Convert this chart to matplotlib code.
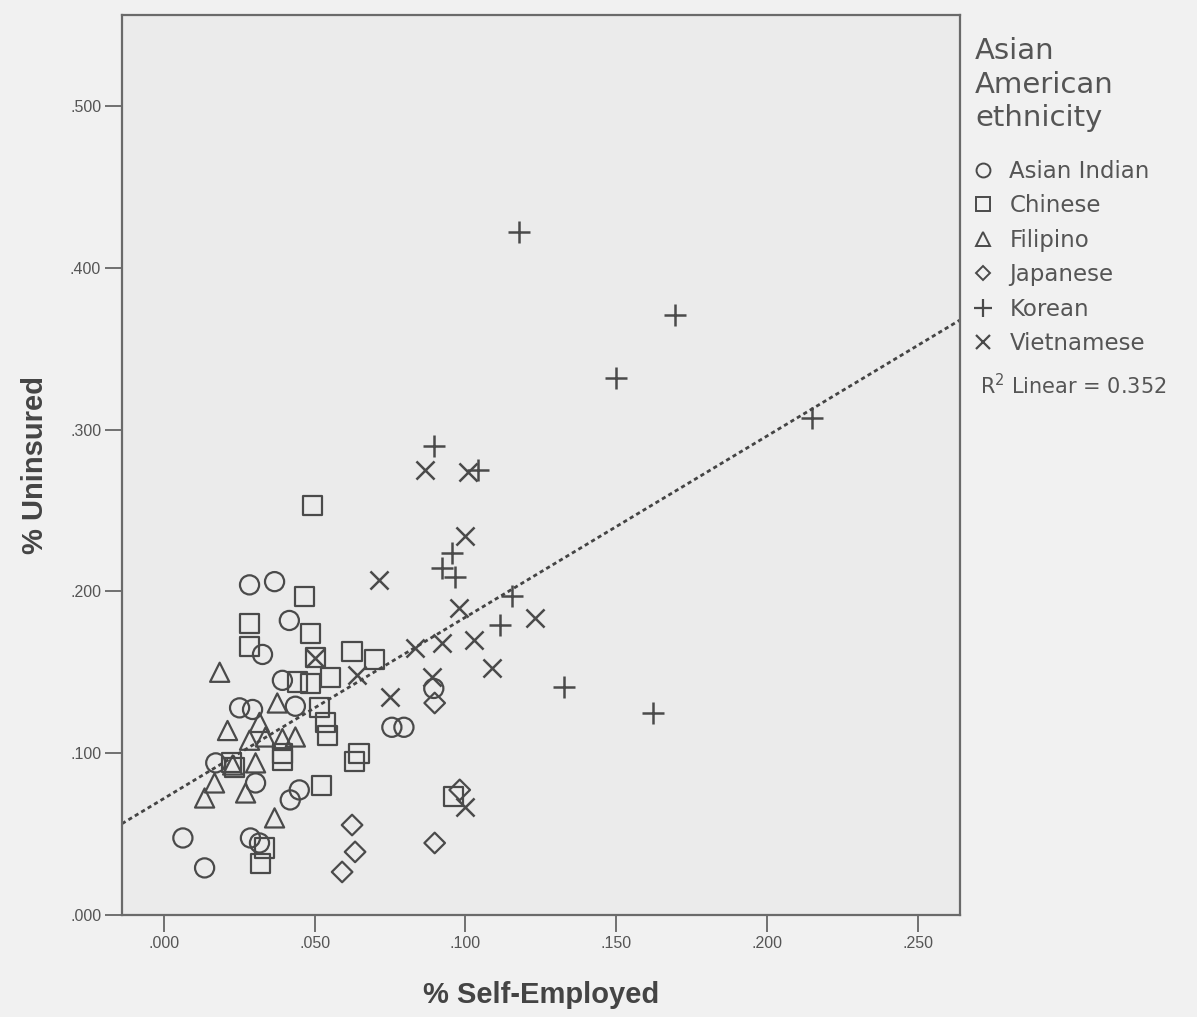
import matplotlib
matplotlib.use('Agg')
import matplotlib.pyplot as plt
from matplotlib.ticker import FuncFormatter
import numpy as np

plt.rcParams['font.family'] = ['Liberation Sans', 'DejaVu Sans']

# % self-employed (x) and % uninsured (y), per ethnicity
indian_x = [0.0284, 0.0367, 0.0416, 0.0327, 0.0393, 0.0251, 0.0294, 0.0436, 0.0172, 0.0304,
            0.0419, 0.0449, 0.0063, 0.0135, 0.0287, 0.0317, 0.0756, 0.0796, 0.0895]
indian_y = [0.204, 0.206, 0.182, 0.161, 0.145, 0.128, 0.127, 0.129, 0.094, 0.0816,
            0.0711, 0.0773, 0.0476, 0.0291, 0.0476, 0.0445, 0.116, 0.116, 0.140]

chinese_x = [0.0492, 0.0466, 0.0284, 0.0284, 0.0485, 0.0502, 0.0624, 0.0697, 0.0552, 0.0443,
             0.0485, 0.0515, 0.0535, 0.0542, 0.0393, 0.0393, 0.0522, 0.0334, 0.0320, 0.0647,
             0.0631, 0.0961, 0.0225, 0.0234]
chinese_y = [0.253, 0.197, 0.180, 0.166, 0.174, 0.159, 0.163, 0.158, 0.147, 0.144,
             0.143, 0.128, 0.119, 0.111, 0.0958, 0.100, 0.080, 0.0414, 0.032, 0.100,
             0.0946, 0.073, 0.094, 0.0909]

filipino_x = [0.0185, 0.0376, 0.0211, 0.0317, 0.0337, 0.0436, 0.0284, 0.0393, 0.0228, 0.0304,
              0.0168, 0.0135, 0.0271, 0.0367]
filipino_y = [0.150, 0.131, 0.114, 0.119, 0.110, 0.110, 0.108, 0.109, 0.0927, 0.094,
              0.0816, 0.0723, 0.0754, 0.060]

japanese_x = [0.0898, 0.0981, 0.0898, 0.0624, 0.0634, 0.0591]
japanese_y = [0.131, 0.0773, 0.0445, 0.0556, 0.039, 0.0266]

korean_x = [0.1179, 0.1694, 0.1499, 0.2150, 0.0895, 0.1040, 0.0954, 0.0921, 0.0964, 0.1153,
            0.1113, 0.1328, 0.1622]
korean_y = [0.422, 0.371, 0.332, 0.307, 0.290, 0.275, 0.224, 0.2145, 0.209, 0.197,
            0.179, 0.141, 0.125]

viet_x = [0.0865, 0.1010, 0.1000, 0.0713, 0.0978, 0.1229, 0.1030, 0.0921, 0.0832, 0.1087,
          0.0750, 0.0888, 0.0997, 0.0641, 0.0502]
viet_y = [0.275, 0.274, 0.234, 0.207, 0.190, 0.1836, 0.170, 0.168, 0.165, 0.1527,
          0.1347, 0.147, 0.0667, 0.148, 0.159]

# fit line as drawn in the chart
fit_slope = 1.12
fit_intercept = 0.072
r2_label = 'R$^2$ Linear = 0.352'

x_ticks = [0.0, 0.05, 0.10, 0.15, 0.20, 0.25]
y_ticks = [0.0, 0.1, 0.2, 0.3, 0.4, 0.5]

ink = '#4a4a4a'
fig = plt.figure(figsize=(11.97, 10.17), dpi=100, facecolor='#f1f1f1')
ax = fig.add_axes([0.1019, 0.1003, 0.7001, 0.8847], facecolor='#ebebeb')

groups = [
    (indian_x, indian_y, 'o', 'Asian Indian'),
    (chinese_x, chinese_y, 's', 'Chinese'),
    (filipino_x, filipino_y, '^', 'Filipino'),
    (japanese_x, japanese_y, 'D', 'Japanese'),
    (korean_x, korean_y, '+', 'Korean'),
    (viet_x, viet_y, 'x', 'Vietnamese'),
]
for xs, ys, m, lab in groups:
    if m in ('+', 'x'):
        ax.scatter(xs, ys, marker=m, color=ink, s=260 if m == '+' else 170, linewidths=1.8, label=lab)
    elif m == 'D':
        ax.scatter(xs, ys, marker=m, facecolors='none', edgecolors=ink, s=110, linewidths=1.6, label=lab)
    else:
        ax.scatter(xs, ys, marker=m, facecolors='none', edgecolors=ink, s=190, linewidths=1.6, label=lab)

xlim = (-0.0139, 0.2640)
xx = np.array(xlim)
ax.plot(xx, fit_intercept + fit_slope * xx, linestyle=(0, (1.5, 1.2)), color='#444444', lw=2.0)

ax.set_xlim(*xlim)
ax.set_ylim(0, 0.556)
ax.set_xticks(x_ticks)
ax.set_yticks(y_ticks)
fmt = FuncFormatter(lambda v, p: f'{v:.3f}'.lstrip('0') if v >= 0 else f'{v:.3f}')
ax.xaxis.set_major_formatter(fmt)
ax.yaxis.set_major_formatter(fmt)
ax.tick_params(direction='out', length=12, width=1.3, color='#666666', labelcolor='#555555',
               labelsize=11.5, pad=3)
for sp in ax.spines.values():
    sp.set_color('#6a6a6a')
    sp.set_linewidth(1.6)

ax.set_xlabel('% Self-Employed', fontsize=21, fontweight='bold', color='#444444', labelpad=22)
ax.set_ylabel('% Uninsured', fontsize=21, fontweight='bold', color='#444444', labelpad=15)

# legend, built by hand so the spacing matches
fig.text(975 / 1197, 1 - 37 / 1017, 'Asian\nAmerican\nethnicity', fontsize=21, color='#555555',
         va='top', ha='left', linespacing=1.26, family='DejaVu Sans')

leg_handles = [
    plt.Line2D([], [], marker='o', ls='none', mfc='none', mec=ink, ms=10, mew=1.4),
    plt.Line2D([], [], marker='s', ls='none', mfc='none', mec=ink, ms=10, mew=1.4),
    plt.Line2D([], [], marker='^', ls='none', mfc='none', mec=ink, ms=10, mew=1.4),
    plt.Line2D([], [], marker='D', ls='none', mfc='none', mec=ink, ms=7.5, mew=1.4),
    plt.Line2D([], [], marker='+', ls='none', color=ink, ms=13, mew=1.6),
    plt.Line2D([], [], marker='x', ls='none', color=ink, ms=10, mew=1.6),
]
leg = fig.legend(handles=leg_handles, labels=[g[3] for g in groups], loc='upper left',
                 bbox_to_anchor=(975 / 1197, 1 - 160 / 1017), frameon=False,
                 prop={'family': 'DejaVu Sans', 'size': 16.5},
                 handlelength=0.7, handletextpad=0.8, labelspacing=0.5,
                 borderpad=0, borderaxespad=0)
for t in leg.get_texts():
    t.set_color('#555555')

fig.text(980 / 1197, 1 - 386 / 1017, r2_label, fontsize=15, color='#555555', va='center',
         family='DejaVu Sans')

plt.savefig('out.png', dpi=100, facecolor=fig.get_facecolor())
